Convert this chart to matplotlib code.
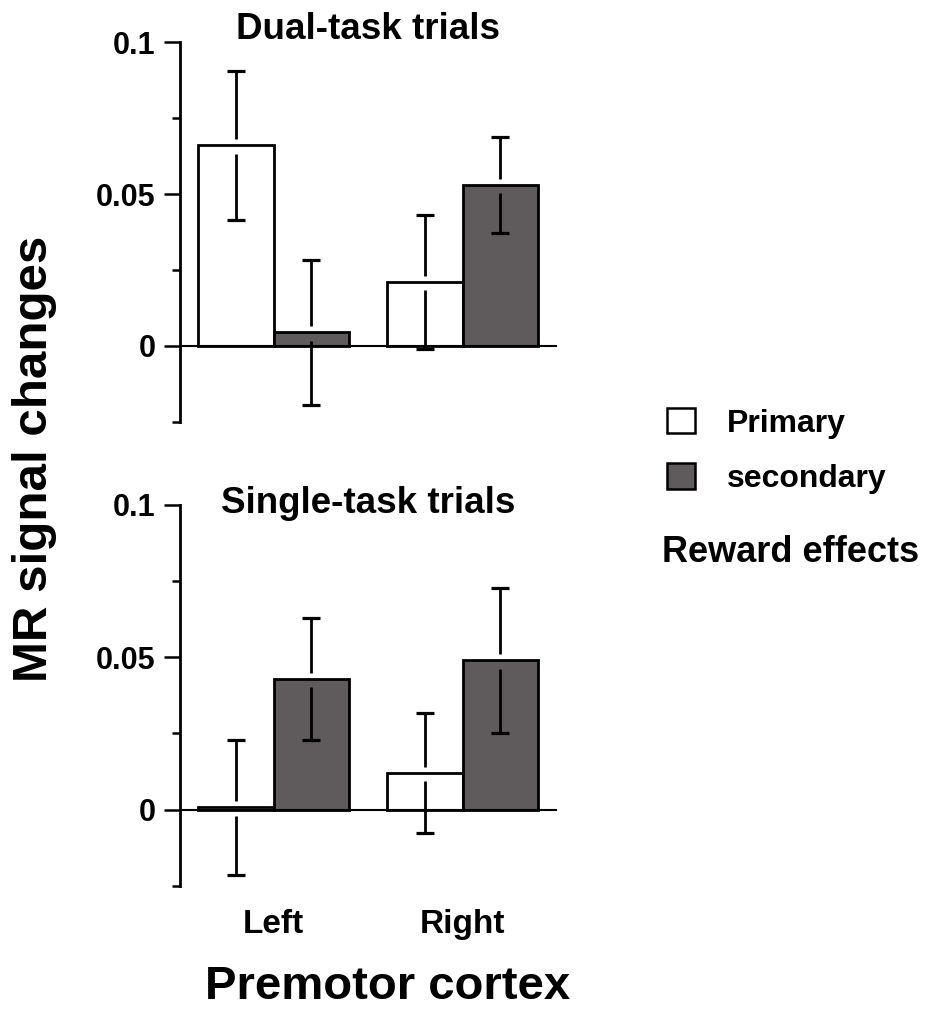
import matplotlib
matplotlib.use("Agg")
import matplotlib.pyplot as plt
import matplotlib.transforms as mtransforms
from matplotlib.patches import Patch
import numpy as np

plt.rcParams['font.family'] = ['Liberation Sans', 'DejaVu Sans']
plt.rcParams['font.weight'] = 'bold'

# ---- data ----
categories = ['Left', 'Right']
series_names = ['Primary', 'secondary']
dual_primary = [0.066, 0.021]
dual_primary_err = [0.0245, 0.022]
dual_secondary = [0.0044, 0.053]
dual_secondary_err = [0.024, 0.0157]
single_primary = [0.0007, 0.012]
single_primary_err = [0.0222, 0.0198]
single_secondary = [0.0429, 0.049]
single_secondary_err = [0.0199, 0.0239]
ytick_vals = [0, 0.05, 0.1]
ytick_labels = ['0', '0.05', '0.1']
panel_titles = ['Dual-task trials', 'Single-task trials']

colors = ['white', '#5f5b5c']
W, H = 932, 1011
fig = plt.figure(figsize=(W / 100, H / 100), dpi=100)

def axrect(left, top, right, bottom):
    return [left / W, 1 - bottom / H, (right - left) / W, (bottom - top) / H]

ax_top = fig.add_axes(axrect(180, 42.3, 557, 421.7))
ax_bot = fig.add_axes(axrect(180, 505, 557, 885.7))

gap_above = 0.0021
gap_below = 0.0027
cap_half = 0.048
width = 0.4
offsets = [-0.2, 0.2]

def draw_panel(ax, vals_list, errs_list, title, title_off_px, show_x):
    x = np.arange(len(categories))
    for k, (vals, errs) in enumerate(zip(vals_list, errs_list)):
        xs = x + offsets[k]
        ax.bar(xs, vals, width=width, color=colors[k], edgecolor='black',
               linewidth=2.0, zorder=2, label=series_names[k])
        vals = np.asarray(vals)
        errs = np.asarray(errs)
        ax.vlines(xs, vals + gap_above, vals + errs, color='black', lw=2.0, zorder=4)
        ax.vlines(xs, vals - errs, vals - gap_below, color='black', lw=2.0, zorder=4)
        ax.hlines(vals + errs, xs - cap_half, xs + cap_half, color='black', lw=2.3, zorder=4)
        ax.hlines(vals - errs, xs - cap_half, xs + cap_half, color='black', lw=2.3, zorder=4)
    ax.axhline(0, color='black', lw=1.5, zorder=3)
    ax.set_xlim(-0.495, 1.5)
    ax.set_ylim(-0.025, 0.1)
    for s in ['top', 'right', 'bottom']:
        ax.spines[s].set_visible(False)
    ax.spines['left'].set_linewidth(2.0)
    ax.set_yticks(ytick_vals)
    ax.set_yticklabels(ytick_labels)
    ax.set_yticks([-0.025, 0.025, 0.075], minor=True)
    ax.tick_params(axis='y', which='major', length=11.5, width=1.8, pad=6,
                   labelsize=22, direction='out')
    ax.tick_params(axis='y', which='minor', length=5.8, width=1.8, direction='out')
    if show_x:
        ax.set_xticks(x)
        ax.set_xticklabels(categories)
        ax.tick_params(axis='x', length=0, pad=17, labelsize=24)
    else:
        ax.set_xticks([])
    for lab in ax.get_yticklabels() + ax.get_xticklabels():
        lab.set_fontweight('bold')
    tr = mtransforms.offset_copy(ax.transAxes, fig=fig, x=0, y=title_off_px, units='dots')
    ax.text(0.5, 1.0, title, transform=tr, ha='center', va='baseline',
            fontsize=26.5, fontweight='bold')
    ax.patch.set_visible(False)

draw_panel(ax_top, [dual_primary, dual_secondary], [dual_primary_err, dual_secondary_err],
           panel_titles[0], 3, False)
draw_panel(ax_bot, [single_primary, single_secondary], [single_primary_err, single_secondary_err],
           panel_titles[1], -8, True)

handles = [Patch(facecolor=colors[k], edgecolor='black', linewidth=1.8, label=series_names[k])
           for k in range(2)]
fig.legend(handles=handles, loc='upper left', bbox_to_anchor=(667 / W, 1 - 408 / H),
           frameon=False, handlelength=0.88, handleheight=0.85,
           handletextpad=1.0, labelspacing=0.76, borderpad=0, borderaxespad=0,
           prop={'weight': 'bold', 'size': 23})

fig.text(662 / W, 1 - 553 / H, 'Reward effects', ha='left', va='center',
         fontsize=26, fontweight='bold')
fig.text(35 / W, 1 - 459 / H, 'MR signal changes', rotation=90, ha='center',
         va='center', fontsize=35.5, fontweight='bold')
fig.text(388 / W, 1 - 987 / H, 'Premotor cortex', ha='center', va='center',
         fontsize=34, fontweight='bold')

fig.savefig('out.png', dpi=100)
